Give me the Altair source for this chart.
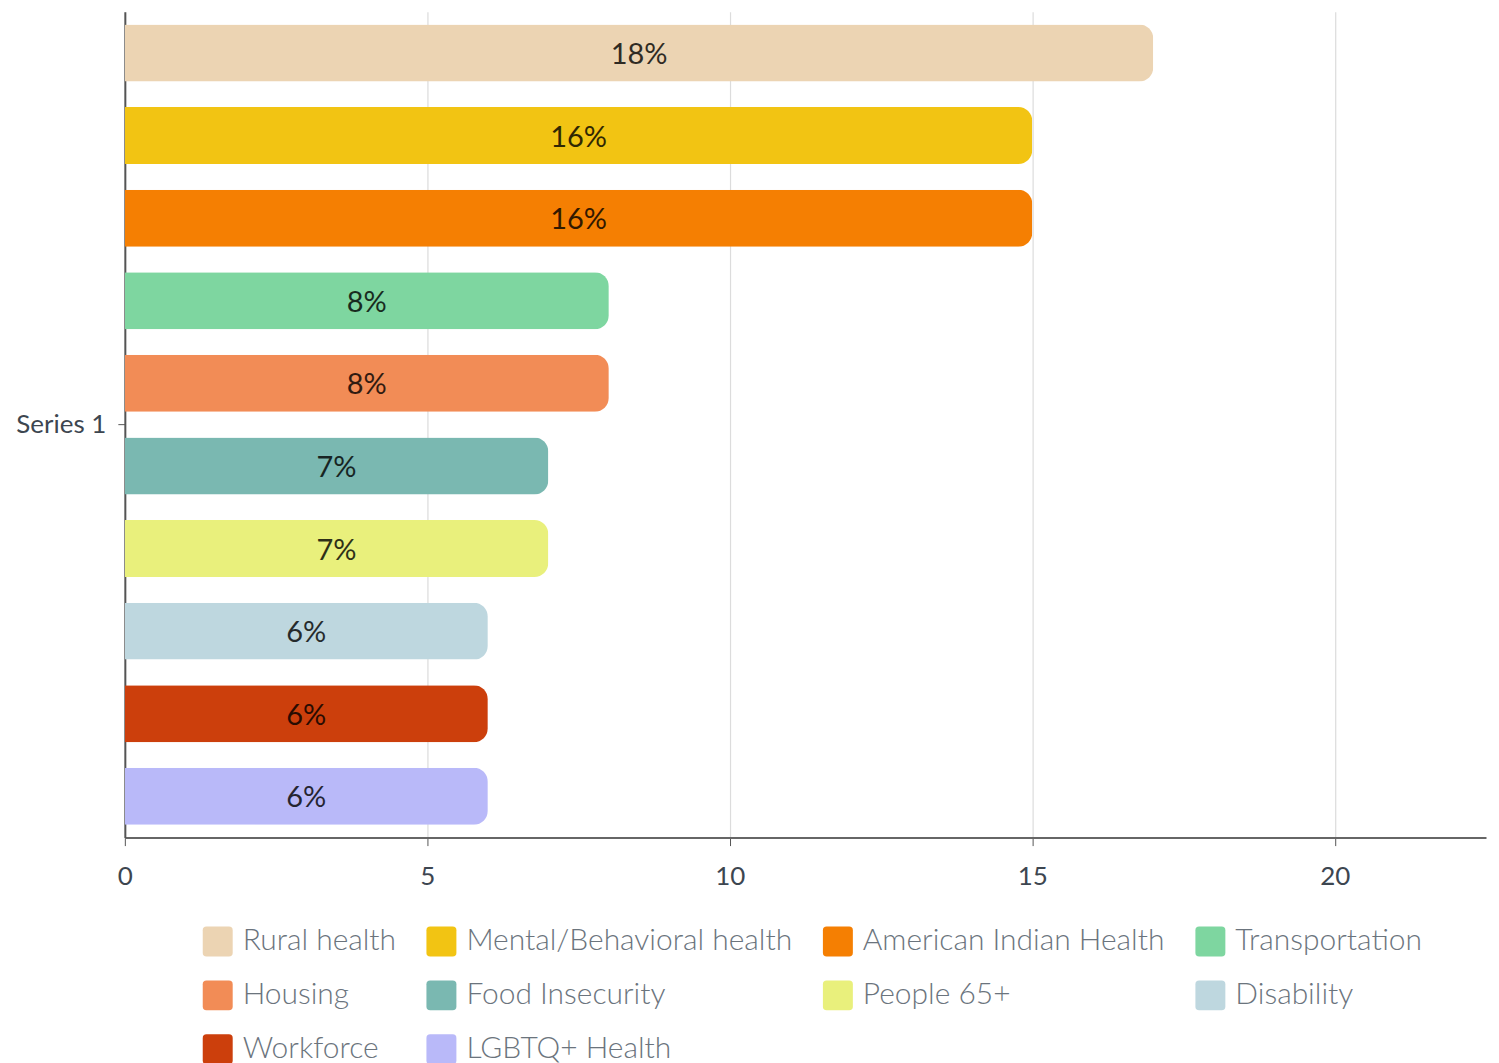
import altair as alt
import pandas as pd

categories = ["Rural health", "Mental/Behavioral health", "American Indian Health",
              "Transportation", "Housing", "Food Insecurity", "People 65+",
              "Disability", "Workforce", "LGBTQ+ Health"]
values = [17, 15, 15, 8, 8, 7, 7, 6, 6, 6]
labels = ["18%", "16%", "16%", "8%", "8%", "7%", "7%", "6%", "6%", "6%"]
colors = ["#ECD4B3", "#F2C413", "#F57F02", "#7ED6A0", "#F28C56", "#7AB8B1",
          "#E9F07C", "#BED7DF", "#CC3F0C", "#B9B9F9"]
series = "Series 1"

df = pd.DataFrame({"series": [series] * len(categories), "category": categories,
                   "value": values, "label": labels})

rounded = ("M -0.75 -1 L 0.75 -1 Q 1 -1 1 -0.75 L 1 0.75 Q 1 1 0.75 1 "
           "L -0.75 1 Q -1 1 -1 0.75 L -1 -0.75 Q -1 -1 -0.75 -1 Z")

y_scale = alt.Scale(paddingInner=0, paddingOuter=0)
y_enc = alt.Y("series:N", title=None, scale=y_scale,
              axis=alt.Axis(labelFontSize=26, labelFont="Lato", labelColor="#3d4650",
                            tickSize=7, tickColor="#555", labelPadding=12,
                            domainColor="#555", domainWidth=2, grid=False))
yoff = alt.YOffset("category:N", sort=categories,
                   scale=alt.Scale(paddingInner=0.31, paddingOuter=0.155))

bars = alt.Chart(df).mark_bar(cornerRadiusEnd=14).encode(
    x=alt.X("value:Q", title=None,
            scale=alt.Scale(domain=[0, 22.5], nice=False),
            axis=alt.Axis(values=[0, 5, 10, 15, 20], format="d", labelFontSize=26,
                          labelFont="Lato", labelColor="#3d4650", tickSize=8,
                          tickColor="#555", labelPadding=18, labelFlush=False,
                          domainColor="#666", domainWidth=2, gridColor="#dcdcdc",
                          gridWidth=1.2)),
    y=y_enc,
    yOffset=yoff,
    color=alt.Color("category:N", sort=categories, title=None,
                    scale=alt.Scale(domain=categories, range=colors),
                    legend=alt.Legend(orient="none", legendX=78, legendY=916, columns=4,
                                      direction="horizontal",
                                      symbolType=rounded, symbolSize=900,
                                      symbolStrokeWidth=0, labelFontSize=30,
                                      labelFont="Lato", labelFontWeight=300,
                                      labelColor="#6b747d", labelOffset=10,
                                      columnPadding=30, rowPadding=24,
                                      labelLimit=500)),
)

text = alt.Chart(df).transform_calculate(mid="datum.value / 2").mark_text(
    fontSize=29, font="Lato", color="#000000", opacity=0.8, baseline="middle",
    align="center", dy=2
).encode(
    x=alt.X("mid:Q"),
    y=alt.Y("series:N", scale=y_scale),
    yOffset=alt.YOffset("category:N", sort=categories),
    text="label:N",
)

chart = alt.layer(bars, text).properties(
    width=1363, height=827,
    padding={"left": 7, "top": 3, "right": 5, "bottom": 5},
).configure_view(stroke=None)

chart.save("out.html", embed_options={"renderer": "svg", "actions": False})
